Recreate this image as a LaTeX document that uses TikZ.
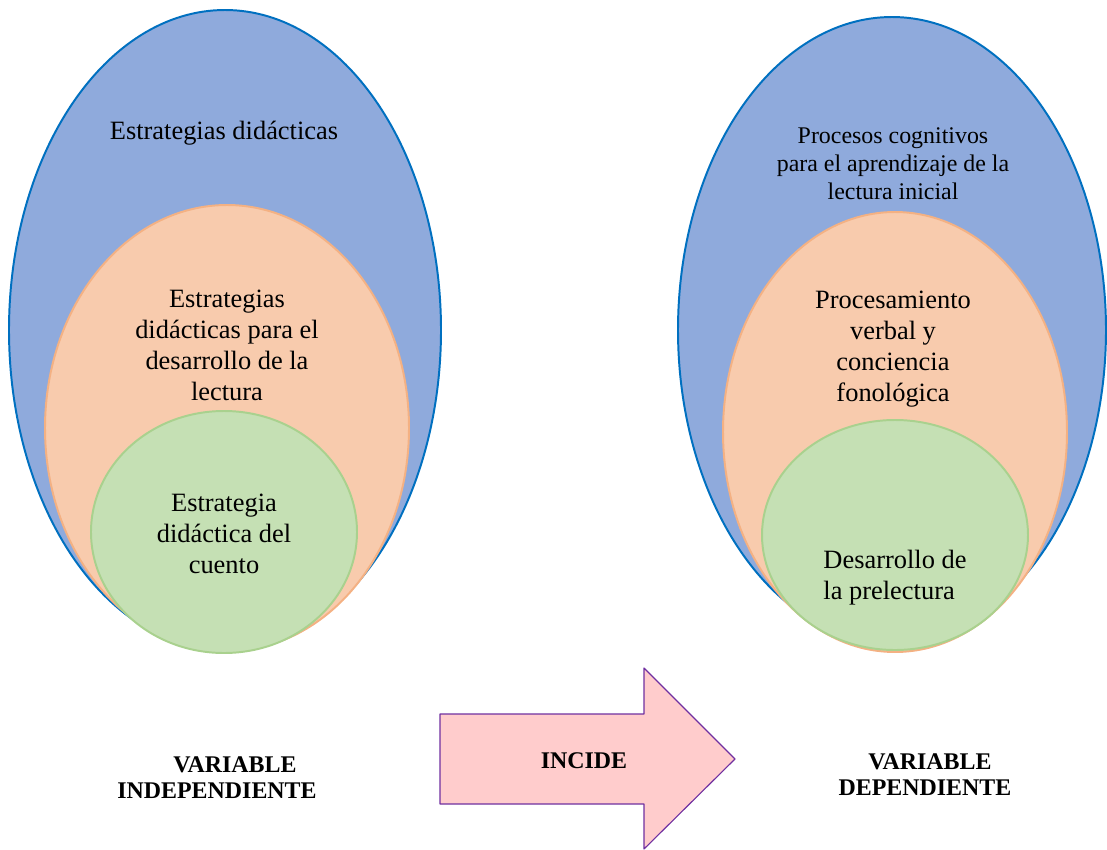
\documentclass[tikz,border=0pt]{standalone}
\usepackage{fontspec}
\setmainfont{Liberation Serif}
\usetikzlibrary{positioning}
\definecolor{blauw}{HTML}{8FAADC}
\definecolor{blauwrand}{HTML}{0070C0}
\definecolor{oranje}{HTML}{F8CBAD}
\definecolor{oranjerand}{HTML}{F4B183}
\definecolor{groen}{HTML}{C5E0B4}
\definecolor{groenrand}{HTML}{A9D18E}
\definecolor{roze}{HTML}{FFCCCC}
\definecolor{paars}{HTML}{7030A0}
\tikzset{
  buiten/.style={fill=blauw, draw=blauwrand, line width=1.4pt},
  midden/.style={fill=oranje, draw=oranjerand, line width=1.4pt},
  binnen/.style={fill=groen, draw=groenrand, line width=1.4pt},
  tekst/.style={align=center, font=\fontsize{18.8}{22}\selectfont, inner sep=0pt},
  kleintekst/.style={align=center, font=\fontsize{17}{20}\selectfont, inner sep=0pt},
  vetlabel/.style={align=center, font=\fontsize{17}{18.5}\selectfont\bfseries, inner sep=0pt}
}
\begin{document}
\begin{tikzpicture}[x=0.025cm, y=-0.025cm, line join=round]
  \useasboundingbox (0,0) rectangle (1107,850);

  % linker ellipsen
  \draw[buiten] (225,330) ellipse [x radius=216, y radius=320];
  \draw[midden] (227,428) ellipse [x radius=182, y radius=223];
  \draw[binnen] (224,532) ellipse [x radius=133, y radius=121];

  % rechter ellipsen
  \draw[buiten] (892,330) ellipse [x radius=214, y radius=313];
  \draw[midden] (895,432) ellipse [x radius=172, y radius=220];
  \draw[binnen] (895,535) ellipse [x radius=133, y radius=115];

  % pijl
  \draw[fill=roze, draw=paars, line width=0.8pt]
    (440,714) -- (644,714) -- (644,668) -- (735,759) -- (644,849)
    -- (644,804) -- (440,804) -- cycle;

  % teksten links
  \node[tekst] (indA) at (224,133) {Estrategias didácticas};
  \node[tekst] (indB) at (227,345) {Estrategias\\didácticas para el\\desarrollo de la\\lectura};
  \node[tekst] (indC) at (224,534) {Estrategia\\didáctica del\\cuento};

  % teksten rechts
  \node[kleintekst] (depA) at (893,164) {Procesos cognitivos\\para el aprendizaje de la\\lectura inicial};
  \node[tekst] (depB) at (893,349) {Procesamiento\\verbal y\\conciencia\\fonológica};
  \node[tekst, align=left] (depC) at (895,578) {Desarrollo de\\la prelectura};

  % labels onder
  \node[vetlabel] (indep) at (217,778) {\hspace*{0.9cm}VARIABLE\\INDEPENDIENTE};
  \node[vetlabel] (effect) at (584,761) {INCIDE};
  \node[vetlabel] (dep) at (925,775) {\hspace*{0.25cm}VARIABLE\\DEPENDIENTE};
\end{tikzpicture}
\end{document}
